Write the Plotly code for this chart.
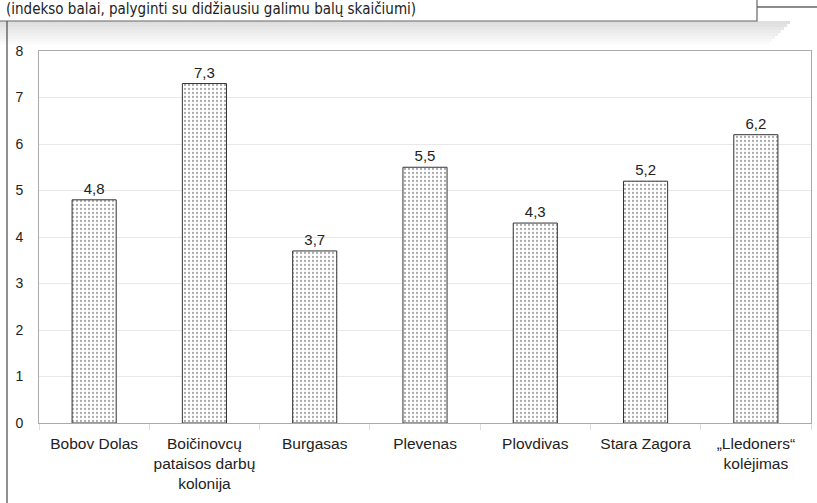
import plotly.graph_objects as go

categories = [
    "Bobov Dolas",
    "Boičinovcų<br>pataisos darbų<br>kolonija",
    "Burgasas",
    "Plevenas",
    "Plovdivas",
    "Stara Zagora",
    "„Lledoners“<br>kolėjimas",
]
scores = [4.8, 7.3, 3.7, 5.5, 4.3, 5.2, 6.2]
y_ticks = [0, 1, 2, 3, 4, 5, 6, 7, 8]
title_text = "(indekso balai, palyginti su didžiausiu galimu balų skaičiumi)"

W, H = 817, 503
M_L, M_R, M_T, M_B = 39, 6, 51, 80
PLOT_H = H - M_T - M_B
PLOT_W = W - M_L - M_R


def px_x(px):
    return (px - M_L) / PLOT_W


def px_y(py):
    return 1 - (py - M_T) / PLOT_H


fig = go.Figure(
    go.Bar(
        x=categories,
        y=scores,
        width=0.4,
        marker=dict(
            color="white",
            line=dict(color="#333333", width=1),
            pattern=dict(shape=".", fgcolor="#555555", bgcolor="white", size=4, solidity=0.25),
        ),
        texttemplate="%{y:.1f}",
        textposition="outside",
        textfont=dict(family="Liberation Sans", size=15, color="#222222"),
        cliponaxis=False,
    )
)

shapes = []
# shadow under the title box
for i in range(8):
    shapes.append(dict(
        type="rect", xref="paper", yref="paper",
        x0=px_x(0), x1=px_x(790 - i * 3),
        y0=px_y(21 + i * 3), y1=px_y(21 + (i + 1) * 3),
        fillcolor="rgba(120,120,120,%.3f)" % (0.24 * (1 - i / 8)),
        line=dict(width=0), layer="below",
    ))
# title box
shapes.append(dict(
    type="rect", xref="paper", yref="paper",
    x0=px_x(-2), x1=px_x(757), y0=px_y(21), y1=px_y(-5),
    fillcolor="white", line=dict(color="#666666", width=1.2), layer="above",
))
# outer frame pieces
shapes.append(dict(
    type="line", xref="paper", yref="paper",
    x0=px_x(7), x1=px_x(7), y0=px_y(21), y1=px_y(505),
    line=dict(color="#555555", width=1.3),
))
shapes.append(dict(
    type="line", xref="paper", yref="paper",
    x0=px_x(757), x1=px_x(820), y0=px_y(7), y1=px_y(7),
    line=dict(color="#666666", width=1.3),
))

fig.update_layout(
    width=W,
    height=H,
    margin=dict(l=M_L, r=M_R, t=M_T, b=M_B, autoexpand=False),
    paper_bgcolor="white",
    plot_bgcolor="white",
    separators=", ",
    showlegend=False,
    shapes=shapes,
    annotations=[dict(
        text=title_text, xref="paper", yref="paper",
        x=px_x(4), y=px_y(9), xanchor="left", yanchor="middle",
        showarrow=False,
        font=dict(family="DejaVu Sans Condensed, Lato", size=15, color="#222222"),
    )],
    xaxis=dict(
        showline=True, linecolor="#aaaaaa", mirror=True,
        ticks="outside", tickson="boundaries", ticklen=6, tickcolor="#dddddd",
        tickangle=0, automargin=False, ticklabelstandoff=6,
        tickfont=dict(family="Liberation Sans", size=15.5, color="#222222"),
        showgrid=False,
    ),
    yaxis=dict(
        range=[0, 8], tickvals=y_ticks, automargin=False,
        showline=True, linecolor="#aaaaaa", mirror=True,
        showgrid=True, gridcolor="#e8e8e8",
        ticks="", ticklabelstandoff=12,
        tickfont=dict(family="Liberation Sans", size=14, color="#222222"),
        zeroline=False,
    ),
)

fig.write_html(
    "out.html",
    config={"displayModeBar": False},
    post_script="document.body.style.margin='0px';",
)
